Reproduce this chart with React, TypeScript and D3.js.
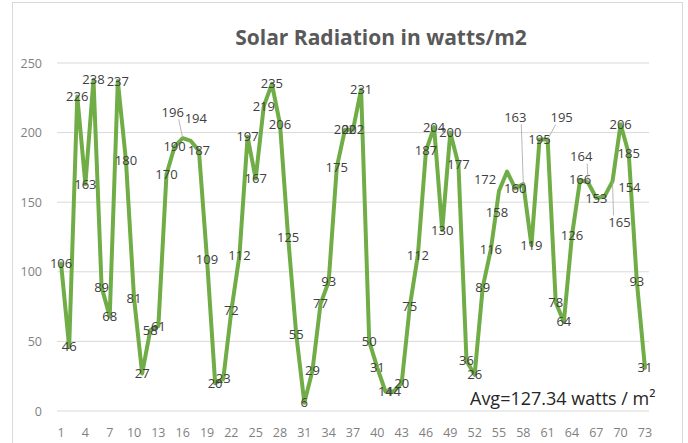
import React from "react";
import * as d3 from "d3";

const W = 688;
const H = 443;

const categories: number[] = Array.from({ length: 73 }, (_, i) => i + 1);
const radiation: number[] = [
  106, 46, 226, 163, 238, 89, 68, 237, 180, 81,
  27, 58, 61, 170, 190, 196, 194, 187, 109, 20,
  23, 72, 112, 197, 167, 219, 235, 206, 125, 55,
  6, 29, 77, 93, 175, 202, 202, 231, 50, 31,
  14, 14, 20, 75, 112, 187, 204, 130, 200, 177,
  36, 26, 89, 116, 158, 172, 160, 163, 119, 195,
  195, 78, 64, 126, 166, 164, 153, 154, 165, 206,
  185, 93, 31,
];
const yTicks: number[] = [0, 50, 100, 150, 200, 250];
const xTickLabels: number[] = categories.filter((c) => (c - 1) % 3 === 0);
const title = "Solar Radiation in watts/m2";
const avgText = "Avg=127.34 watts / m\u00B2";

// manually moved data labels (style): index -> [dx, dy, leader]
const labelMoves: Record<number, [number, number, boolean]> = {
  16: [-10, -26, true],
  17: [5, -22, false],
  55: [-2, 21, false],
  56: [-22, 8, false],
  58: [-8, -67, true],
  61: [14, -22, true],
  66: [-7, -26, true],
  68: [25, -9, false],
  69: [7, 41, true],
};

export default function App() {
  const left = 57;
  const right = 649;
  const top = 63;
  const bottom = 411;

  const x = d3
    .scaleBand<number>()
    .domain(categories)
    .range([left, right]);
  const cx = (c: number) => (x(c) as number) + x.bandwidth() / 2;
  const y = d3.scaleLinear().domain([0, 250]).range([bottom, top]);

  const line = d3
    .line<number>()
    .x((_, i) => cx(categories[i]))
    .y((d) => y(d));

  const font = "'Open Sans', 'Liberation Sans', sans-serif";

  return (
    <svg
      width={W}
      height={H}
      style={{ position: "absolute", left: 0, top: 0, background: "#fff" }}
    >
      <rect x={12.5} y={2.5} width={670} height={460} fill="#fff" stroke="#D9D9D9" />
      <text
        x={381}
        y={45}
        textAnchor="middle"
        fontFamily={font}
        fontWeight={700}
        fontSize={21}
        fill="#595959"
      >
        {title}
      </text>
      {yTicks.map((t) => (
        <g key={t}>
          <line x1={left} x2={right} y1={y(t)} y2={y(t)} stroke="#D9D9D9" strokeWidth={1} />
          <text
            x={42}
            y={y(t) + 4.5}
            textAnchor="end"
            fontFamily={font}
            fontSize={12.5}
            fill="#7F7F7F"
          >
            {t}
          </text>
        </g>
      ))}
      {xTickLabels.map((c) => (
        <text
          key={c}
          x={cx(c)}
          y={437}
          textAnchor="middle"
          fontFamily={font}
          fontSize={12.5}
          fill="#7F7F7F"
        >
          {c}
        </text>
      ))}
      <path
        d={line(radiation) || ""}
        fill="none"
        stroke="#70AD47"
        strokeWidth={4}
        strokeLinejoin="round"
        strokeLinecap="round"
      />
      {radiation.map((v, i) => {
        const idx = i + 1;
        const px = cx(categories[i]);
        const py = y(v);
        const mv = labelMoves[idx];
        const lx = mv ? px + mv[0] : px;
        const ly = mv ? py + mv[1] : py;
        return (
          <g key={idx}>
            {mv && mv[2] ? (
              <line
                x1={lx + (mv[0] < 0 ? 6 : -6)}
                y1={ly + (mv[1] < 0 ? 7 : -7)}
                x2={px}
                y2={py}
                stroke="#A6A6A6"
                strokeWidth={0.8}
              />
            ) : null}
            <text
              x={lx}
              y={ly + 4.5}
              textAnchor="middle"
              fontFamily={font}
              fontSize={13}
              fill="#404040"
            >
              {v}
            </text>
          </g>
        );
      })}
      <text
        x={470}
        y={405}
        fontFamily={font}
        fontSize={18}
        fill="#262626"
      >
        {avgText}
      </text>
    </svg>
  );
}
